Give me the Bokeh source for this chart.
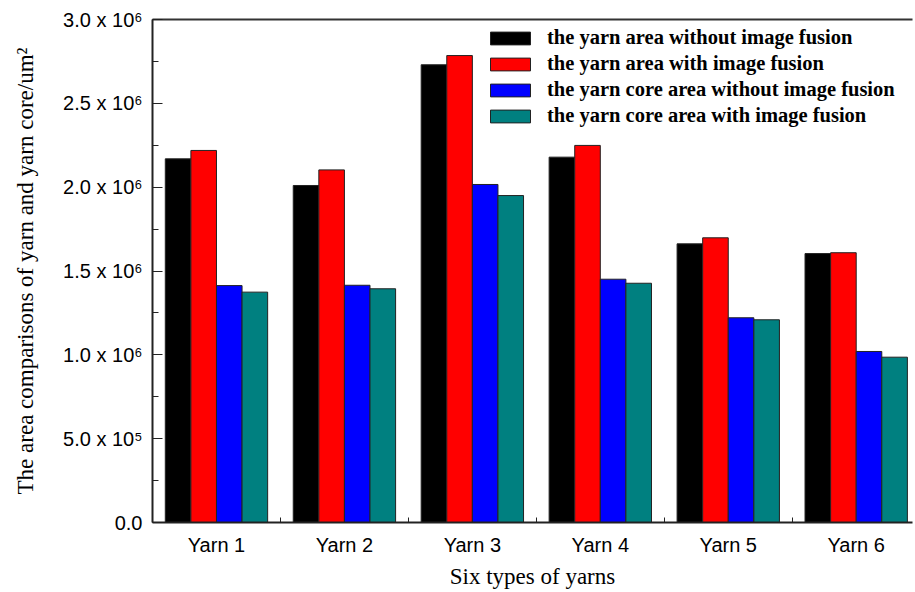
from bokeh.plotting import figure
from bokeh.models import ColumnDataSource, FixedTicker, LinearAxis, Range1d, Legend
from bokeh.transform import dodge
from bokeh.embed import file_html
from bokeh.resources import INLINE

yarns = ["Yarn 1", "Yarn 2", "Yarn 3", "Yarn 4", "Yarn 5", "Yarn 6"]
yarn_area_without = [2.169e6, 2.010e6, 2.730e6, 2.179e6, 1.662e6, 1.604e6]
yarn_area_with = [2.219e6, 2.103e6, 2.785e6, 2.249e6, 1.698e6, 1.609e6]
core_area_without = [1.413e6, 1.415e6, 2.016e6, 1.451e6, 1.221e6, 1.020e6]
core_area_with = [1.374e6, 1.394e6, 1.950e6, 1.427e6, 1.209e6, 0.986e6]

series_names = [
    "the yarn area without image fusion",
    "the yarn area with image fusion",
    "the yarn core area without image fusion",
    "the yarn core area with image fusion",
]
series_values = [yarn_area_without, yarn_area_with, core_area_without, core_area_with]
colors = ["#000000", "#ff0000", "#0000ff", "#008080"]
offsets = [-0.3, -0.1, 0.1, 0.3]

y_ticks = [0, 0.5e6, 1.0e6, 1.5e6, 2.0e6, 2.5e6, 3.0e6]
y_tick_labels = ["0.0", "5.0 x 10\u2075", "1.0 x 10\u2076", "1.5 x 10\u2076",
                 "2.0 x 10\u2076", "2.5 x 10\u2076", "3.0 x 10\u2076"]
x_title = "Six types of yarns"
y_title = "The area comparisons of yarn and yarn core/um\u00b2"

centers = [i + 0.5 for i in range(len(yarns))]
data = {"x": centers}
for k, vals in enumerate(series_values):
    data["s%d" % k] = vals
source = ColumnDataSource(data)

x_end = 5.94
p = figure(width=915, height=592, output_backend="svg", toolbar_location=None,
           x_range=Range1d(0, x_end), y_range=Range1d(0, 3.0e6),
           min_border_left=152, min_border_right=3, min_border_top=19, min_border_bottom=70)
p.outline_line_color = None
p.xgrid.grid_line_color = None
p.ygrid.grid_line_color = None

renderers = []
for k in range(4):
    r = p.vbar(x=dodge("x", offsets[k]), top="s%d" % k, width=0.2, source=source,
               fill_color=colors[k], line_color="#222222", line_width=1)
    renderers.append((series_names[k], [r]))

legend = Legend(items=renderers, location=(333, 395), border_line_color=None,
                background_fill_alpha=0, glyph_width=50, glyph_height=16,
                label_height=17, spacing=3, label_standoff=12, padding=4,
                label_text_font="Liberation Serif", label_text_font_style="bold",
                label_text_font_size="20.5px", label_text_color="#000000")
p.add_layout(legend)

# x axis
xa = p.xaxis[0]
xa.ticker = FixedTicker(ticks=centers, minor_ticks=[1, 2, 3, 4, 5])
xa.major_label_overrides = {c: y for c, y in zip(centers, yarns)}
xa.major_tick_in = 0
xa.major_tick_out = 0
xa.minor_tick_in = 5
xa.minor_tick_out = 0
xa.axis_line_width = 2
xa.axis_line_color = "#222222"
xa.minor_tick_line_color = "#222222"
xa.major_label_text_font = "Liberation Sans"
xa.major_label_text_font_size = "20px"
xa.major_label_text_color = "#000000"
xa.major_label_standoff = 11
xa.axis_label = x_title
xa.axis_label_text_font = "Liberation Serif"
xa.axis_label_text_font_style = "normal"
xa.axis_label_text_font_size = "23px"
xa.axis_label_text_color = "#000000"
xa.axis_label_standoff = 5

# y axis
ya = p.yaxis[0]
ya.ticker = FixedTicker(ticks=y_ticks, minor_ticks=[i * 0.25e6 for i in range(13)])
ya.major_label_overrides = {t: l for t, l in zip(y_ticks, y_tick_labels)}
ya.major_tick_in = 10
ya.major_tick_out = 0
ya.minor_tick_in = 6
ya.minor_tick_out = 0
ya.axis_line_width = 2
ya.axis_line_color = "#222222"
ya.major_tick_line_color = "#222222"
ya.minor_tick_line_color = "#222222"
ya.major_label_text_font = "Liberation Sans"
ya.major_label_text_font_size = "20px"
ya.major_label_text_color = "#000000"
ya.major_label_standoff = 10
ya.axis_label = y_title
ya.axis_label_text_font = "Liberation Serif"
ya.axis_label_text_font_style = "normal"
ya.axis_label_text_font_size = "23px"
ya.axis_label_text_color = "#000000"
ya.axis_label_standoff = 22

# top border line
top = LinearAxis(ticker=FixedTicker(ticks=[]), major_tick_in=0, major_tick_out=0,
                 minor_tick_in=0, minor_tick_out=0, major_label_text_font_size="0px",
                 axis_line_width=2, axis_line_color="#333333")
p.add_layout(top, "above")

open("out.html", "w").write(file_html(p, INLINE))
